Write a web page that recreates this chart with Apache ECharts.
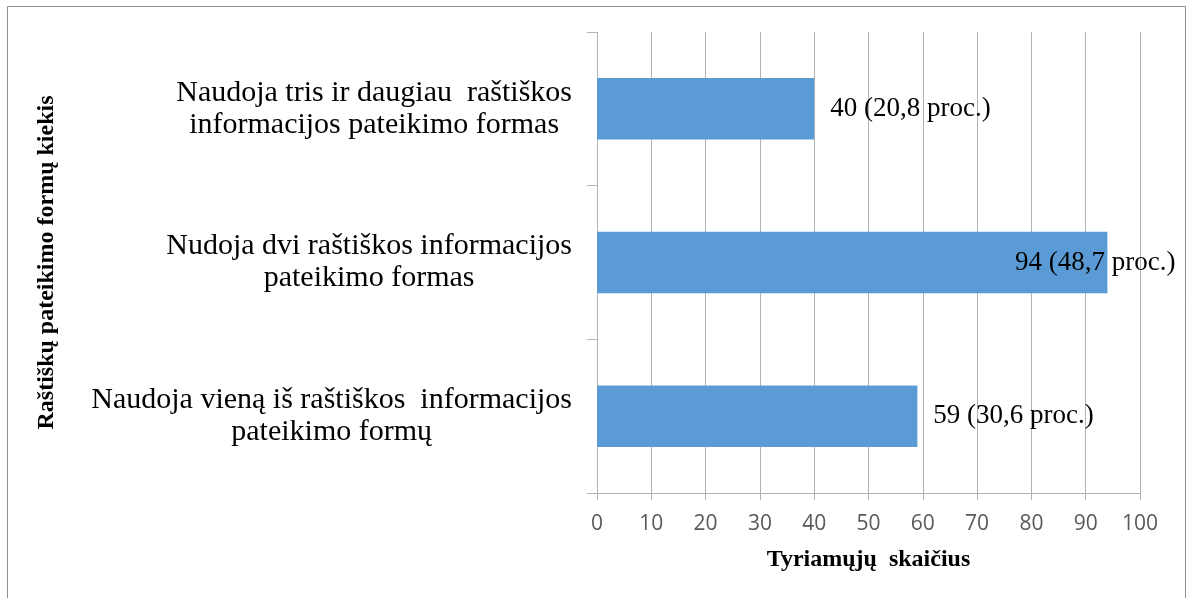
<!DOCTYPE html>
<html>
<head>
<meta charset="utf-8">
<style>
  html, body { margin: 0; padding: 0; background: #fff; }
  #chart { width: 1195px; height: 598px; }
</style>
<script src="https://cdn.jsdelivr.net/npm/echarts@6/dist/echarts.min.js"></script>
</head>
<body>
<div id="chart"></div>
<script>
// Categories, bottom to top as drawn on the value axis
const categories = [
  ['Naudoja vieną iš raštiškos  informacijos', 'pateikimo formų'],
  ['Nudoja dvi raštiškos informacijos', 'pateikimo formas'],
  ['Naudoja tris ir daugiau  raštiškos', 'informacijos pateikimo formas']
];
const counts = [59, 94, 40];
const percents = ['30,6', '48,7', '20,8'];
const xTicks = { min: 0, max: 100, interval: 10 };

const serif = '"Liberation Serif", "Times New Roman", serif';
const gridColor = '#b3b3b3';

const chart = echarts.init(document.getElementById('chart'));

const seriesData = counts.map((v, i) => {
  const item = { value: v };
  // the longest bar keeps its label tucked over its end
  if (v === Math.max(...counts)) {
    item.label = { position: 'insideRight', offset: [84, 0] };
  }
  return item;
});

chart.setOption({
  animation: false,
  backgroundColor: '#fff',
  graphic: [{
    type: 'rect',
    shape: { x: 7.5, y: 6.5, width: 1178, height: 620 },
    style: { fill: 'none', stroke: '#8f8f8f', lineWidth: 1 },
    silent: true
  }],
  grid: { left: 597, right: 55, top: 32, bottom: 105 },
  xAxis: {
    type: 'value',
    min: xTicks.min, max: xTicks.max, interval: xTicks.interval,
    name: 'Tyriamųjų  skaičius',
    nameLocation: 'middle',
    nameGap: 55,
    nameTextStyle: { fontFamily: serif, fontWeight: 'bold', fontSize: 24, color: '#000' },
    axisLine: { show: true, lineStyle: { color: gridColor, width: 1 } },
    axisTick: { show: true, length: 7, lineStyle: { color: gridColor } },
    axisLabel: { fontFamily: '"Open Sans", "Liberation Sans", sans-serif', fontSize: 21, color: '#595959', margin: 21 },
    splitLine: { show: true, lineStyle: { color: gridColor, width: 1 } }
  },
  yAxis: {
    type: 'category',
    data: categories.map(c => c.join('\n')),
    name: 'Raštiškų pateikimo formų kiekis',
    nameLocation: 'middle',
    nameGap: 538,
    nameRotate: 90,
    nameTextStyle: { fontFamily: serif, fontWeight: 'bold', fontSize: 24, color: '#000' },
    axisLine: { show: true, lineStyle: { color: gridColor, width: 1 } },
    axisTick: { show: true, length: 10, alignWithLabel: false, lineStyle: { color: gridColor } },
    axisLabel: {
      margin: 25,
      formatter: v => v.split('\n').map(l => '{c|' + l + '}').join('\n'),
      rich: {
        c: { fontFamily: serif, fontSize: 30, color: '#000', align: 'center', lineHeight: 32 }
      }
    }
  },
  series: [{
    type: 'bar',
    data: seriesData,
    barWidth: '40%',
    itemStyle: { color: '#5b9bd5' },
    label: {
      show: true,
      position: 'right',
      distance: 16,
      fontFamily: serif,
      fontSize: 27,
      color: '#000',
      formatter: p => p.value + ' (' + percents[p.dataIndex] + ' proc.)'
    }
  }]
});
</script>
</body>
</html>
